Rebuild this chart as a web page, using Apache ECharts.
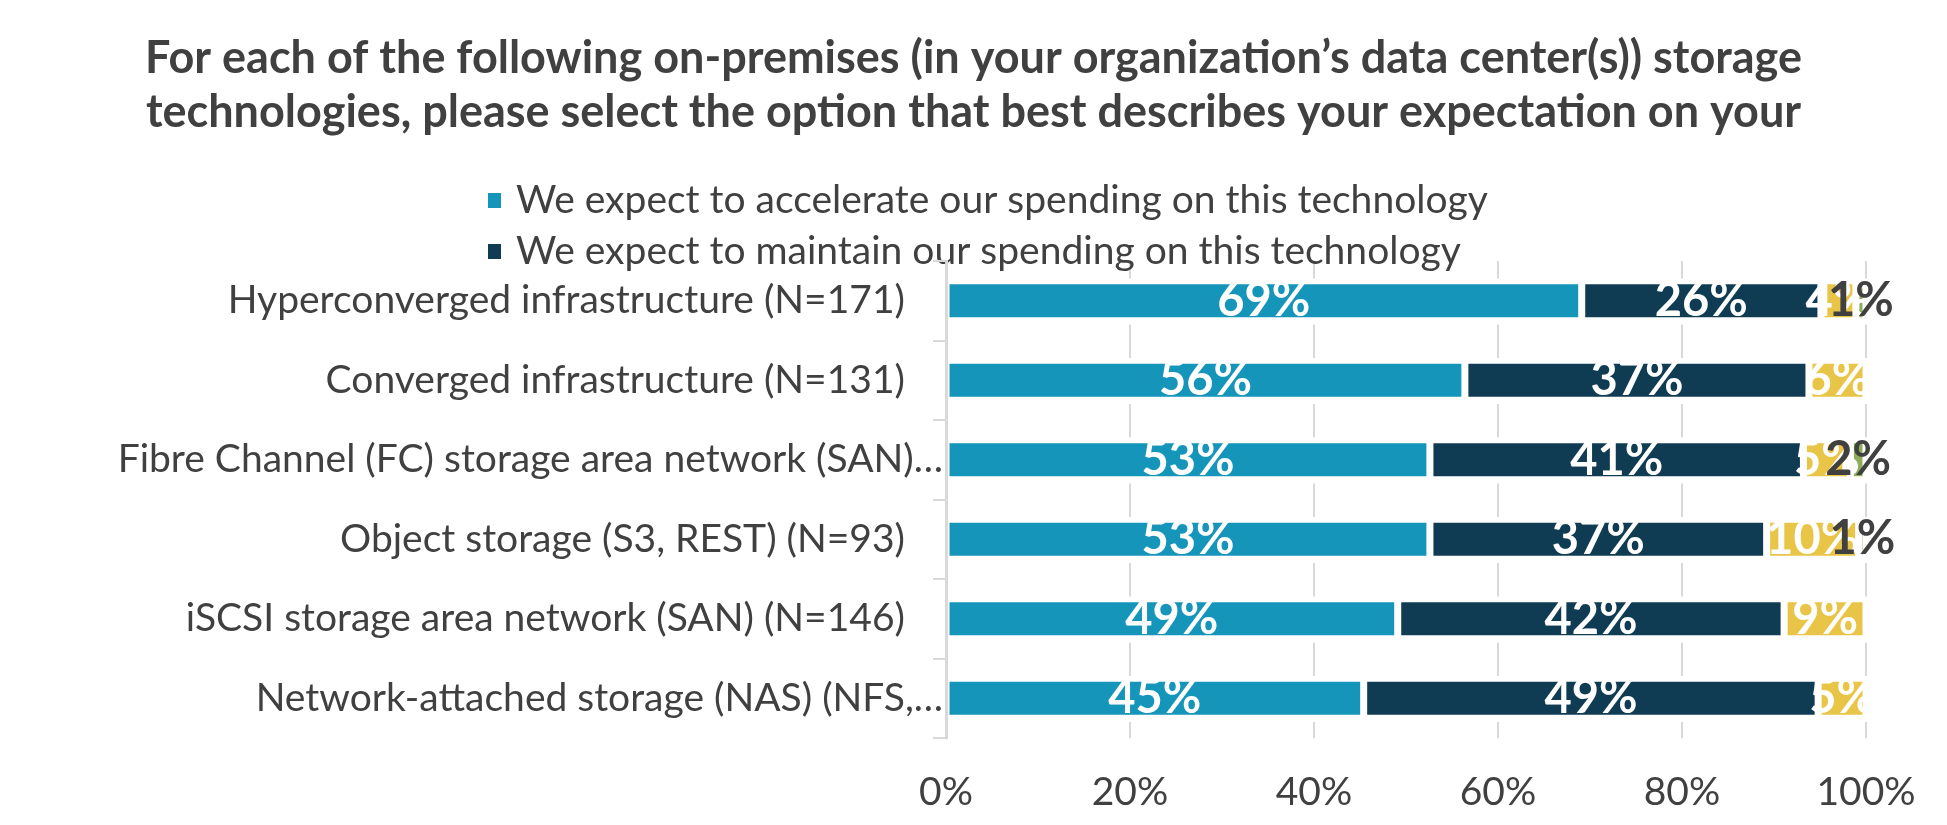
<!DOCTYPE html>
<html><head><meta charset="utf-8">
<script src="https://cdn.jsdelivr.net/npm/echarts@6/dist/echarts.min.js"></script>
<style>html,body{margin:0;padding:0;background:#fff}#c{width:1947px;height:825px}</style>
</head><body><div id="c"></div>
<script>
const titleLines = [
  'For each of the following on-premises (in your organization\u2019s data center(s)) storage',
  'technologies, please select the option that best describes your expectation on your'
];
const categories = [
  'Hyperconverged infrastructure (N=171)',
  'Converged infrastructure (N=131)',
  'Fibre Channel (FC) storage area network (SAN)\u2026',
  'Object storage (S3, REST) (N=93)',
  'iSCSI storage area network (SAN) (N=146)',
  'Network-attached storage (NAS) (NFS,\u2026'
];
const seriesNames = [
  'We expect to accelerate our spending on this technology',
  'We expect to maintain our spending on this technology',
  'Series 3',
  'Series 4'
];
const accelerate = [69.1, 56.4, 52.6, 52.6, 49.1, 45.4];
const maintain   = [26.0, 37.4, 40.6, 36.6, 42.0, 49.4];
const reduce     = [3.8, 6.2, 5.1, 10.0, 8.9, 5.2];
const eliminate  = [1.1, 0, 1.7, 0.8, 0, 0];
const xTickLabels = ['0%', '20%', '40%', '60%', '80%', '100%'];

const FONT = 'Lato';
const colors = ['#1595BA', '#0F3C53', '#E9C547', '#8FAE5C'];
const labelColors = ['#FFFFFF', '#FFFFFF', '#FFFFFF', '#404040'];

function mkSeries(idx, data) {
  return {
    name: seriesNames[idx],
    type: 'bar',
    stack: 'total',
    data: data,
    barWidth: 40,
    itemStyle: { color: colors[idx], borderColor: '#FFFFFF', borderWidth: 3.5 },
    label: {
      show: true,
      position: 'inside',
      color: labelColors[idx],
      fontFamily: FONT,
      fontWeight: 'bold',
      fontSize: 47,
      formatter: p => (p.value > 0 ? Math.round(p.value) + '%' : '')
    },
    emphasis: { disabled: true }
  };
}

const chart = echarts.init(document.getElementById('c'), null, { renderer: 'canvas' });
chart.setOption({
  backgroundColor: '#FFFFFF',
  animation: false,
  title: {
    text: titleLines.join('\n'),
    left: 'center',
    top: 31,
    padding: 0,
    textStyle: { fontFamily: FONT, fontWeight: 'bold', fontSize: 45, lineHeight: 54, color: '#404040' }
  },
  legend: {
    data: [seriesNames[0], seriesNames[1]],
    orient: 'vertical',
    left: 486,
    top: 181,
    padding: 0,
    itemWidth: 15,
    itemHeight: 17,
    itemGap: 12,
    icon: 'rect',
    selectedMode: false,
    textStyle: { fontFamily: FONT, fontSize: 39, color: '#404040', padding: [0, 0, 0, 9] }
  },
  grid: { left: 946, right: 81, top: 261, height: 477 },
  xAxis: {
    type: 'value',
    min: 0,
    max: 100,
    interval: 20,
    axisLine: { show: false },
    axisTick: { show: false },
    axisLabel: {
      fontFamily: FONT, fontSize: 39, color: '#404040', margin: 35,
      formatter: v => xTickLabels[Math.round(v / 20)]
    },
    splitLine: { show: true, lineStyle: { color: '#D9D9D9', width: 2, type: [33.5, 46], dashOffset: 16 } }
  },
  yAxis: {
    type: 'category',
    inverse: true,
    data: categories,
    z: 10,
    axisLine: { show: true, lineStyle: { color: '#D9D9D9', width: 3 } },
    axisTick: { show: true, length: 13, lineStyle: { color: '#D9D9D9', width: 2 } },
    axisLabel: {
      fontFamily: FONT, fontSize: 39, color: '#404040', margin: 3,
      formatter: v => (v.endsWith('\u2026') ? v : v + '{g|}'),
      rich: { g: { width: 38 } }
    }
  },
  series: [mkSeries(0, accelerate), mkSeries(1, maintain), mkSeries(2, reduce), mkSeries(3, eliminate)]
});
</script></body></html>
